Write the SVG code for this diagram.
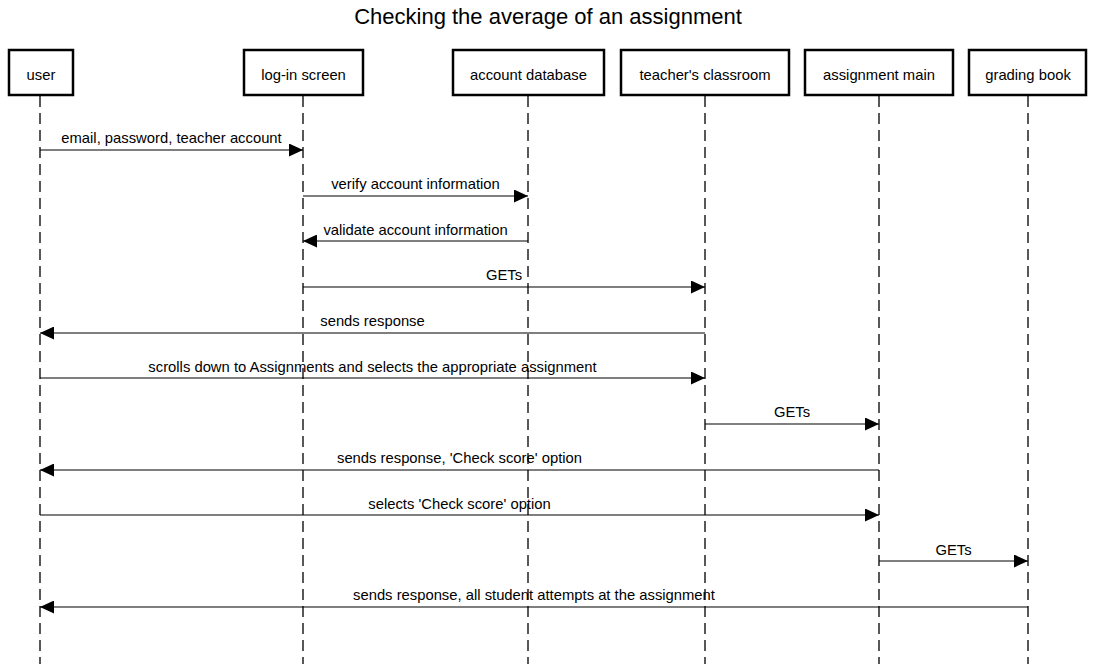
<svg xmlns="http://www.w3.org/2000/svg" width="1095" height="664" viewBox="0 0 1095 664">
<style>
text{font-family:"Liberation Sans",Arial,sans-serif;fill:#000}
.title{font-size:22px}
.lbl{font-size:14.8px}
.box{fill:#fff;stroke:#000;stroke-width:2.5}
.life{stroke:#222;stroke-width:1.5;stroke-dasharray:11,6;fill:none}
.msg{stroke:#000;stroke-width:1.2;fill:none;marker-end:url(#ah)}
</style>
<defs>
<marker id="ah" markerWidth="14" markerHeight="13" refX="14" refY="6.5" orient="auto" markerUnits="userSpaceOnUse">
<path d="M0,0 L14,6.5 L0,13 Z" fill="#000"/>
</marker>
</defs>
<rect width="1095" height="664" fill="#fff"/>
<text class="title" x="548" y="24" text-anchor="middle">Checking the average of an assignment</text>
<g id="lifelines">
<line class="life" x1="40" y1="96" x2="40" y2="664"/>
<line class="life" x1="303" y1="96" x2="303" y2="664"/>
<line class="life" x1="528" y1="96" x2="528" y2="664"/>
<line class="life" x1="705" y1="96" x2="705" y2="664"/>
<line class="life" x1="879" y1="96" x2="879" y2="664"/>
<line class="life" x1="1028" y1="96" x2="1028" y2="664"/>
</g>
<g id="user"><rect class="box" x="9" y="50" width="64" height="45"/><text class="lbl" x="41" y="80" text-anchor="middle">user</text></g>
<g id="login"><rect class="box" x="244" y="50" width="119" height="45"/><text class="lbl" x="303.5" y="80" text-anchor="middle">log-in screen</text></g>
<g id="accountdb"><rect class="box" x="453" y="50" width="151" height="45"/><text class="lbl" x="528.5" y="80" text-anchor="middle">account database</text></g>
<g id="classroom"><rect class="box" x="621" y="50" width="168" height="45"/><text class="lbl" x="705" y="80" text-anchor="middle">teacher's classroom</text></g>
<g id="assignment"><rect class="box" x="805" y="50" width="148" height="45"/><text class="lbl" x="879" y="80" text-anchor="middle">assignment main</text></g>
<g id="grading"><rect class="box" x="969" y="50" width="117" height="45"/><text class="lbl" x="1028" y="80" text-anchor="middle">grading book</text></g>
<g id="connectors">
<line class="msg" x1="40" y1="150" x2="303" y2="150"/>
<text class="lbl" x="171.5" y="143" text-anchor="middle">email, password, teacher account</text>
<line class="msg" x1="303" y1="196" x2="528" y2="196"/>
<text class="lbl" x="415.5" y="189" text-anchor="middle">verify account information</text>
<line class="msg" x1="528" y1="241" x2="303" y2="241"/>
<text class="lbl" x="415.5" y="235" text-anchor="middle">validate account information</text>
<line class="msg" x1="303" y1="287" x2="705" y2="287"/>
<text class="lbl" x="504" y="280" text-anchor="middle">GETs</text>
<line class="msg" x1="705" y1="333" x2="40" y2="333"/>
<text class="lbl" x="372.5" y="326" text-anchor="middle">sends response</text>
<line class="msg" x1="40" y1="378" x2="705" y2="378"/>
<text class="lbl" x="372.5" y="372" text-anchor="middle">scrolls down to Assignments and selects the appropriate assignment</text>
<line class="msg" x1="705" y1="424" x2="879" y2="424"/>
<text class="lbl" x="792" y="417" text-anchor="middle">GETs</text>
<line class="msg" x1="879" y1="470" x2="40" y2="470"/>
<text class="lbl" x="459.5" y="463" text-anchor="middle">sends response, 'Check score' option</text>
<line class="msg" x1="40" y1="515" x2="879" y2="515"/>
<text class="lbl" x="459.5" y="509" text-anchor="middle">selects 'Check score' option</text>
<line class="msg" x1="879" y1="561" x2="1028" y2="561"/>
<text class="lbl" x="953.5" y="555" text-anchor="middle">GETs</text>
<line class="msg" x1="1028" y1="607" x2="40" y2="607"/>
<text class="lbl" x="534" y="600" text-anchor="middle">sends response, all student attempts at the assignment</text>
</g>
</svg>
